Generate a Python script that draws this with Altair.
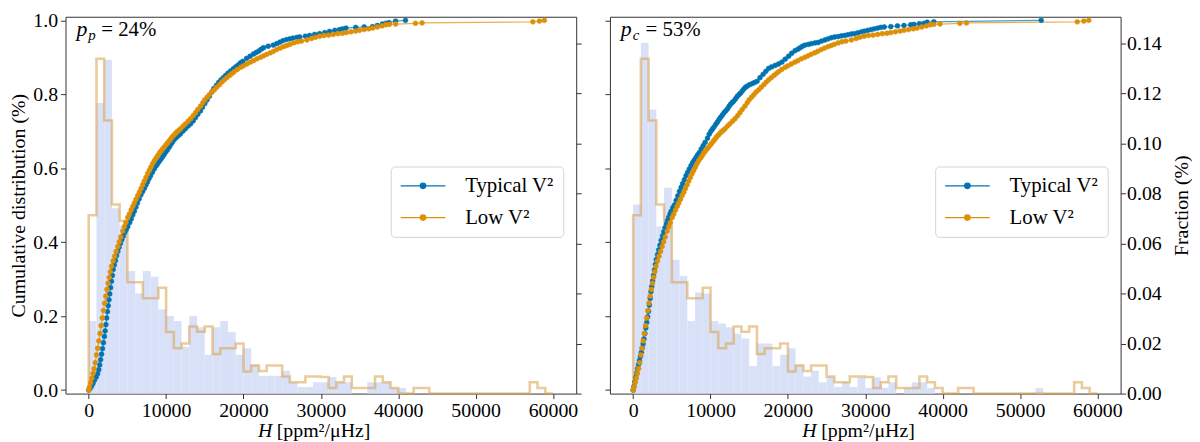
import altair as alt
import pandas as pd

FONT = "Liberation Serif"
BIN_WIDTH = 1000
N_BINS = 60

SERIES = ["Typical V²", "Low V²"]
COLORS = ["#0173B2", "#DE8F05"]
HIST_FILL = "#d9e1f8"

# fraction per 1000 ppm^2/uHz bin, bins start at 0
typical_hist_left = [
    0.029, 0.1161, 0.1333, 0.074, 0.067, 0.049, 0.040, 0.049, 0.0467, 0.0336,
    0.031, 0.029, 0.0187, 0.031, 0.0265, 0.0155, 0.0265, 0.029, 0.0245, 0.0155,
    0.0181, 0.0116, 0.0071, 0.0071, 0.0071, 0.0091, 0.0045, 0.0026, 0.0026, 0.0045,
    0.0045, 0.0066, 0.0045, 0.0045, 0.0, 0.0, 0.0045, 0.0045, 0.0045, 0.0022,
    0.0022, 0.0, 0.0, 0.0, 0.0, 0.0, 0.0, 0.0, 0.0, 0.0,
    0.0, 0.0, 0.0, 0.0, 0.0, 0.0, 0.0, 0.0, 0.0, 0.0,
]
typical_hist_right = [
    0.0755, 0.140, 0.1135, 0.0667, 0.0822, 0.0535, 0.047, 0.029, 0.0404, 0.040,
    0.029, 0.028, 0.0265, 0.0239, 0.022, 0.011, 0.020, 0.020, 0.011, 0.0155,
    0.0181, 0.0116, 0.0068, 0.0091, 0.0045, 0.0068, 0.0026, 0.0045, 0.0026, 0.0065,
    0.0023, 0.0065, 0.0023, 0.0045, 0.0, 0.0022, 0.0045, 0.0045, 0.0022, 0.0,
    0.0, 0.0, 0.0, 0.0, 0.0, 0.0, 0.0, 0.0, 0.0, 0.0,
    0.0, 0.0, 0.0022, 0.0, 0.0, 0.0, 0.0, 0.0, 0.0, 0.0,
]
low_hist = [
    0.0712, 0.1337, 0.1091, 0.0755, 0.069, 0.0445, 0.0445, 0.0381, 0.0381, 0.0423,
    0.0246, 0.0181, 0.020, 0.0268, 0.0247, 0.0268, 0.0158, 0.0181, 0.0181, 0.020,
    0.0088, 0.0112, 0.009, 0.0112, 0.0112, 0.0068, 0.0045, 0.0045, 0.0068, 0.0068,
    0.0066, 0.0022, 0.0045, 0.0068, 0.0022, 0.0022, 0.0022, 0.0068, 0.0045, 0.0022,
    0.0, 0.0, 0.0022, 0.0022, 0.0, 0.0, 0.0, 0.0, 0.0, 0.0,
    0.0, 0.0, 0.0, 0.0, 0.0, 0.0, 0.0, 0.0045, 0.0022, 0.0,
]

# cumulative distributions, (H, cumulative fraction)
typical_cdf_left = [
    (0, 0.0), (150, 0.004), (350, 0.010), (550, 0.018), (750, 0.027), (950, 0.035),
    (1150, 0.044), (1300, 0.055), (1420, 0.068), (1540, 0.082), (1660, 0.097),
    (1780, 0.112), (1900, 0.128), (2020, 0.145), (2120, 0.160), (2220, 0.177),
    (2320, 0.195), (2420, 0.212), (2520, 0.228), (2620, 0.244), (2720, 0.260),
    (2830, 0.277), (2940, 0.294), (3050, 0.310), (3160, 0.326), (3300, 0.338),
    (3450, 0.350), (3600, 0.363), (3760, 0.375), (3920, 0.386), (4100, 0.397),
    (4280, 0.407), (4450, 0.416), (4650, 0.426), (4850, 0.434), (5050, 0.442),
    (5300, 0.453), (5500, 0.463), (5700, 0.474), (5900, 0.484), (6100, 0.495),
    (6300, 0.506), (6520, 0.517), (6750, 0.528), (6970, 0.537), (7200, 0.546),
    (7400, 0.555), (7600, 0.563), (7800, 0.572), (8000, 0.580), (8230, 0.589),
    (8470, 0.598), (8700, 0.606), (8900, 0.612), (9100, 0.618), (9320, 0.624),
    (9550, 0.631), (9750, 0.637), (9970, 0.644), (10180, 0.650), (10400, 0.657),
    (10600, 0.664), (10800, 0.670), (11030, 0.677), (11250, 0.682), (11450, 0.686),
    (11680, 0.690), (11880, 0.694), (12200, 0.701), (12500, 0.707), (12850, 0.714),
    (13170, 0.720), (13500, 0.728), (13800, 0.737), (14100, 0.746), (14450, 0.755),
    (14700, 0.765), (15000, 0.775), (15300, 0.785), (15600, 0.795), (15900, 0.806),
    (16150, 0.815), (16500, 0.824), (16800, 0.832), (17100, 0.839), (17400, 0.845),
    (17700, 0.851), (18000, 0.857), (18350, 0.863), (18700, 0.869), (19000, 0.874),
    (19300, 0.879), (19600, 0.885), (19900, 0.889), (20400, 0.897), (20850, 0.903),
    (21300, 0.909), (21650, 0.913), (22000, 0.917), (22300, 0.922), (22600, 0.926),
    (23200, 0.930), (23850, 0.933), (24300, 0.937), (24700, 0.941), (25100, 0.945),
    (25560, 0.948), (26000, 0.950), (26400, 0.952), (26900, 0.954), (27270, 0.955),
    (28000, 0.957), (28550, 0.959), (29200, 0.962), (29830, 0.964), (30500, 0.967),
    (31120, 0.970), (31800, 0.973), (32400, 0.975), (32800, 0.977), (33250, 0.979),
    (34500, 0.981), (35600, 0.982), (36670, 0.983), (37300, 0.986), (37950, 0.990),
    (38400, 0.992), (38800, 0.994), (39660, 0.998), (40940, 1.0),
]
typical_cdf_right = [
    (0, 0.0), (100, 0.010), (220, 0.022), (340, 0.034), (460, 0.046), (580, 0.058),
    (700, 0.069), (820, 0.080), (940, 0.091), (1060, 0.102), (1180, 0.114),
    (1290, 0.125), (1400, 0.138), (1520, 0.153), (1640, 0.168), (1760, 0.183),
    (1880, 0.198), (1990, 0.213), (2100, 0.230), (2200, 0.248), (2300, 0.266),
    (2400, 0.280), (2520, 0.295), (2640, 0.310), (2760, 0.325), (2880, 0.340),
    (2990, 0.353), (3150, 0.366), (3300, 0.379), (3470, 0.392), (3630, 0.405),
    (3800, 0.417), (3960, 0.428), (4120, 0.439), (4280, 0.449), (4440, 0.458),
    (4600, 0.467), (4760, 0.476), (4920, 0.484), (5130, 0.493), (5340, 0.501),
    (5550, 0.513), (5760, 0.525), (5980, 0.537), (6200, 0.548), (6400, 0.558),
    (6620, 0.569), (6840, 0.580), (7050, 0.589), (7260, 0.598), (7480, 0.607),
    (7690, 0.615), (7900, 0.622), (8120, 0.629), (8330, 0.636), (8545, 0.642),
    (8800, 0.652), (9050, 0.661), (9300, 0.670), (9610, 0.681), (9830, 0.692),
    (10050, 0.700), (10260, 0.706), (10470, 0.712), (10690, 0.719), (10900, 0.725),
    (11110, 0.732), (11320, 0.738), (11540, 0.744), (11750, 0.750), (11960, 0.755),
    (12180, 0.760), (12390, 0.767), (12600, 0.773), (12820, 0.778), (13030, 0.782),
    (13250, 0.788), (13450, 0.794), (13670, 0.799), (13880, 0.803), (14100, 0.809),
    (14300, 0.814), (14520, 0.819), (14740, 0.822), (15050, 0.826), (15400, 0.829),
    (15700, 0.832), (16020, 0.835), (16400, 0.845), (16800, 0.854), (17150, 0.862),
    (17510, 0.870), (17900, 0.874), (18350, 0.878), (18800, 0.882), (19220, 0.887),
    (19650, 0.895), (20100, 0.903), (20500, 0.911), (20930, 0.918), (21300, 0.922),
    (21600, 0.926), (21900, 0.930), (22210, 0.933), (22650, 0.935), (23050, 0.937),
    (23500, 0.939), (23910, 0.940), (24350, 0.944), (24800, 0.947), (25200, 0.950),
    (25620, 0.953), (26050, 0.955), (26500, 0.956), (26900, 0.958), (27330, 0.959),
    (27750, 0.961), (28200, 0.963), (28600, 0.964), (29040, 0.966), (29500, 0.969),
    (29900, 0.971), (30330, 0.973), (30750, 0.975), (31150, 0.977), (31600, 0.979),
    (32000, 0.981), (32450, 0.982), (33300, 0.983), (34160, 0.985), (35000, 0.986),
    (35870, 0.988), (36300, 0.989), (37000, 0.991), (37580, 0.992), (38000, 0.995),
    (38860, 0.996), (52740, 1.0),
]
low_cdf = [
    (0, 0.0), (100, 0.008), (250, 0.020), (400, 0.032), (550, 0.045), (700, 0.058),
    (850, 0.074), (1000, 0.095), (1150, 0.113), (1300, 0.133), (1450, 0.153),
    (1600, 0.174), (1750, 0.195), (1900, 0.215), (2050, 0.235), (2200, 0.254),
    (2350, 0.272), (2500, 0.289), (2650, 0.305), (2800, 0.320), (2950, 0.335),
    (3150, 0.349), (3350, 0.362), (3550, 0.375), (3760, 0.388), (3950, 0.401),
    (4150, 0.414), (4400, 0.430), (4600, 0.442), (4800, 0.453), (5050, 0.467),
    (5250, 0.476), (5480, 0.487), (5700, 0.497), (5900, 0.506), (6120, 0.516),
    (6330, 0.526), (6550, 0.535), (6760, 0.545), (6970, 0.555), (7180, 0.565),
    (7400, 0.575), (7610, 0.585), (7830, 0.594), (8040, 0.603), (8250, 0.612),
    (8470, 0.620), (8700, 0.627), (8900, 0.633), (9100, 0.640), (9320, 0.646),
    (9550, 0.652), (9750, 0.657), (9970, 0.663), (10180, 0.668), (10400, 0.674),
    (10600, 0.679), (10800, 0.685), (11030, 0.690), (11250, 0.695), (11450, 0.699),
    (11680, 0.703), (11890, 0.707), (12200, 0.714), (12500, 0.720), (12850, 0.727),
    (13170, 0.734), (13500, 0.742), (13800, 0.750), (14100, 0.759), (14450, 0.768),
    (14750, 0.777), (15000, 0.785), (15300, 0.792), (15600, 0.799), (15900, 0.806),
    (16230, 0.812), (16550, 0.819), (16900, 0.826), (17200, 0.833), (17510, 0.839),
    (17850, 0.845), (18200, 0.851), (18500, 0.856), (18800, 0.861), (19200, 0.867),
    (19650, 0.873), (20000, 0.877), (20450, 0.882), (20900, 0.887), (21300, 0.891),
    (21750, 0.896), (22200, 0.900), (22600, 0.904), (23000, 0.908), (23450, 0.912),
    (23850, 0.916), (24300, 0.921), (24750, 0.925), (25200, 0.929), (25600, 0.932),
    (26000, 0.935), (26500, 0.939), (27000, 0.942), (27500, 0.944), (28200, 0.947),
    (28800, 0.951), (29300, 0.954), (29850, 0.957), (30400, 0.959), (31000, 0.960),
    (31600, 0.962), (32200, 0.964), (32800, 0.965), (33300, 0.967), (33900, 0.969),
    (34500, 0.971), (35000, 0.973), (35600, 0.975), (36200, 0.977), (36700, 0.979),
    (37300, 0.982), (37900, 0.985), (38400, 0.988), (38850, 0.989), (39660, 0.990),
    (42230, 0.992), (43080, 0.993), (57400, 0.996), (58250, 0.998), (58890, 1.0),
]

notes = [("p", "p", "= 24%"), ("p", "c", "= 53%")]
x_ticks = [0, 10000, 20000, 30000, 40000, 50000, 60000]
cum_ticks = [0.0, 0.2, 0.4, 0.6, 0.8, 1.0]
frac_ticks = [0.0, 0.02, 0.04, 0.06, 0.08, 0.10, 0.12, 0.14]

W, H = 515, 380

# legend symbol: short line with a dot in the middle
SYMBOL = "M-2.5,0H2.5M0.3,0A0.3,0.3,0,1,1,-0.3,0A0.3,0.3,0,1,1,0.3,0Z"

x_scale = alt.Scale(domain=[-3000, 63000], nice=False, zero=False)
cum_scale = alt.Scale(domain=[-0.0095, 1.0097], nice=False, zero=False)
frac_scale = alt.Scale(domain=[0, 0.1505], nice=False)
color_scale = alt.Scale(domain=SERIES, range=COLORS)

x_axis = alt.Axis(values=x_ticks, format="d", title=None, labelPadding=2)


def hist_tables(typical, low):
    bars = pd.DataFrame({
        "x0": [k * BIN_WIDTH for k in range(N_BINS)],
        "x1": [(k + 1) * BIN_WIDTH for k in range(N_BINS)],
        "frac": typical,
        "base": [0.0] * N_BINS,
    })
    # step outline of the low-V2 histogram
    xs = [0] + [k * BIN_WIDTH for k in range(N_BINS)] + [N_BINS * BIN_WIDTH] * 2
    ys = [0.0] + list(low) + [low[-1], 0.0]
    step = pd.DataFrame({"x0": xs, "frac": ys, "i": range(len(xs))})
    return bars, step


def cdf_table(typical_cdf):
    rows = []
    for name, pts in zip(SERIES, [typical_cdf, low_cdf]):
        for i, (h, c) in enumerate(pts):
            rows.append({"H": h, "cum": c, "series": name, "i": i})
    return pd.DataFrame(rows)


def panel(typical_hist, typical_cdf, note, left_side):
    bars, step = hist_tables(typical_hist, low_hist)
    cdf = cdf_table(typical_cdf)

    frac_axis = alt.Axis(
        orient="right", values=frac_ticks, format=".2f", labels=not left_side,
        title=None if left_side else "Fraction (%)", titleAngle=270,
        titleBaseline="top", labelPadding=1, titlePadding=10,
    )
    cum_axis = alt.Axis(
        orient="left", values=cum_ticks, format=".1f", labels=left_side,
        title="Cumulative distribution (%)" if left_side else None,
        labelPadding=3, titlePadding=4,
    )
    legend = alt.Legend(
        title=None, orient="none", legendX=328, legendY=151,
        symbolType=SYMBOL, symbolSize=324, symbolStrokeWidth=1.3, symbolOpacity=1,
        symbolOffset=13, labelOffset=32, labelFont=FONT, labelFontSize=21,
        labelColor="black", padding=9, rowPadding=10, strokeColor="#d5d5d5",
        fillColor="rgba(255,255,255,0.8)", cornerRadius=4,
    )

    hist_bars = alt.Chart(bars).mark_rect(color=HIST_FILL, opacity=1).encode(
        x=alt.X("x0:Q", scale=x_scale, axis=x_axis),
        x2="x1:Q",
        y=alt.Y("frac:Q", scale=frac_scale, axis=frac_axis),
        y2="base:Q",
    )
    hist_step = alt.Chart(step).mark_line(
        interpolate="step-after", color="#D9A04A", opacity=0.55, strokeWidth=2.6
    ).encode(
        x=alt.X("x0:Q", scale=x_scale, axis=x_axis),
        y=alt.Y("frac:Q", scale=frac_scale, axis=frac_axis),
        order="i:Q",
    )

    cdf_line = alt.Chart(cdf).mark_line(strokeWidth=1.2, opacity=0.7).encode(
        x=alt.X("H:Q", scale=x_scale, axis=x_axis),
        y=alt.Y("cum:Q", scale=cum_scale, axis=cum_axis),
        stroke=alt.Stroke("series:N", scale=color_scale, legend=legend),
        detail="series:N",
        order="i:Q",
    )
    cdf_pts = alt.Chart(cdf).mark_point(filled=True, size=24, opacity=1, strokeWidth=0.6).encode(
        x=alt.X("H:Q", scale=x_scale, axis=x_axis),
        y=alt.Y("cum:Q", scale=cum_scale, axis=cum_axis),
        fill=alt.Fill("series:N", scale=color_scale, legend=legend),
        stroke=alt.Stroke("series:N", scale=color_scale, legend=legend),
    )

    one = pd.DataFrame({"a": [0]})
    sym, sub, rest = note
    note_main = alt.Chart(one).mark_text(
        text=sym, font=FONT, fontSize=22, fontStyle="italic", align="left", baseline="alphabetic"
    ).encode(x=alt.value(11), y=alt.value(19))
    note_sub = alt.Chart(one).mark_text(
        text=sub, font=FONT, fontSize=15, fontStyle="italic", align="left", baseline="alphabetic"
    ).encode(x=alt.value(23), y=alt.value(23))
    note_rest = alt.Chart(one).mark_text(
        text=rest, font=FONT, fontSize=21, align="left", baseline="alphabetic"
    ).encode(x=alt.value(36), y=alt.value(19))

    xt_h = alt.Chart(one).mark_text(
        text="H", font=FONT, fontSize=20, fontStyle="italic", align="left", baseline="alphabetic"
    ).encode(x=alt.value(194), y=alt.value(H + 44))
    xt_unit = alt.Chart(one).mark_text(
        text="[ppm²/μHz]", font=FONT, fontSize=20, align="left", baseline="alphabetic"
    ).encode(x=alt.value(213), y=alt.value(H + 44))

    hist = alt.layer(hist_bars, hist_step)
    ecdf = alt.layer(cdf_line, cdf_pts)
    return alt.layer(
        hist, ecdf, note_main, note_sub, note_rest, xt_h, xt_unit
    ).resolve_scale(y="independent").properties(width=W, height=H)


left = panel(typical_hist_left, typical_cdf_left, notes[0], True)
right = panel(typical_hist_right, typical_cdf_right, notes[1], False)

chart = alt.hconcat(left, right, spacing=22).resolve_scale(
    fill="independent", stroke="independent"
).resolve_legend(
    fill="independent", stroke="independent"
).properties(
    padding={"left": 0, "top": 0, "right": 0, "bottom": 0}
).configure_view(
    stroke="#333", strokeWidth=1
).configure_axis(
    labelFont=FONT, titleFont=FONT, labelFontSize=20, titleFontSize=20,
    labelColor="black", titleColor="black", titleFontWeight="normal",
    tickColor="#333", tickSize=5, domain=False, grid=False,
).configure_text(font=FONT)

chart.save("out.html", embed_options={"renderer": "svg", "actions": False})
